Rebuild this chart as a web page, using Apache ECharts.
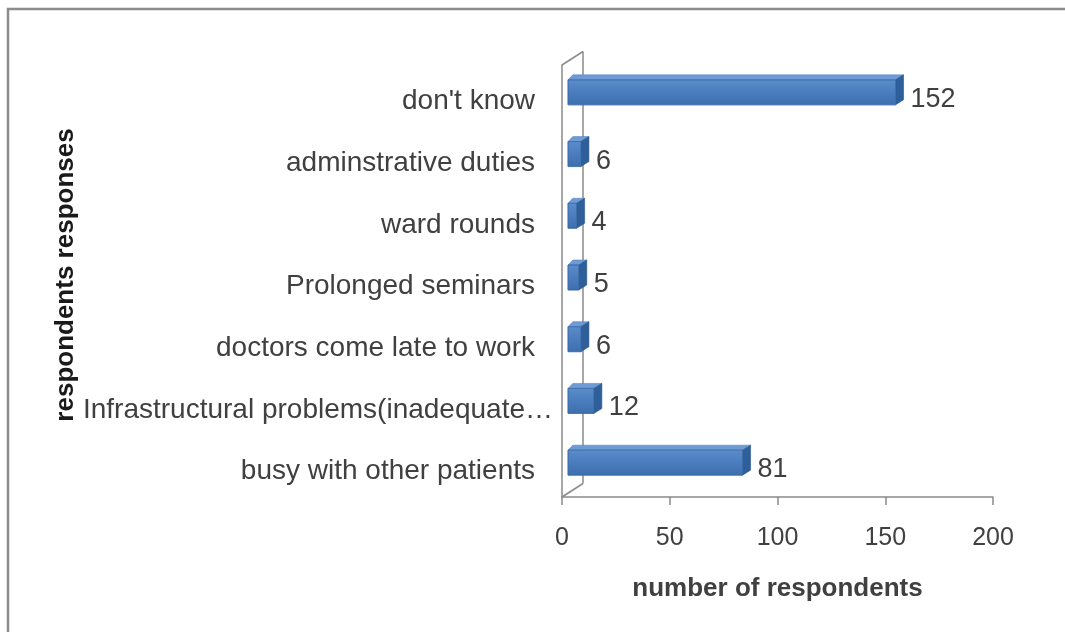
<!DOCTYPE html>
<html>
<head>
<meta charset="utf-8">
<script src="https://cdn.jsdelivr.net/npm/echarts@6/dist/echarts.min.js"></script>
<style>
  html, body { margin: 0; padding: 0; background: #ffffff; }
  #chart { width: 1065px; height: 632px; }
</style>
</head>
<body>
<div id="chart"></div>
<script>
// Reasons given by respondents (bottom to top on the category axis)
const categories = [
  'busy with other patients',
  'Infrastructural problems(inadequate\u2026',
  'doctors come late to work',
  'Prolonged seminars',
  'ward rounds',
  'adminstrative duties',
  "don't know"
];
const respondents = [81, 12, 6, 5, 4, 6, 152];
const xTicks = { min: 0, max: 200, interval: 50 };

const FONT = 'Liberation Sans';
const TEXT = '#404040';
const AXIS = '#8a8a8a';

// 3D look: the bar face sits slightly inside the wall, and each bar has a depth
const FACE_SHIFT = [6, -3.5];
const DEPTH = [8, -5];
const WALL = [21, -13.5];

const chart = echarts.init(document.getElementById('chart'), null, { renderer: 'canvas' });

function renderBar(params, api) {
  const cat = api.value(0);
  const val = api.value(1);
  const start = api.coord([0, cat]);
  const end = api.coord([val, cat]);
  const band = api.size([0, 1])[1];
  const h = band * 0.405;
  const x0 = start[0] + FACE_SHIFT[0];
  const x1 = end[0] + FACE_SHIFT[0];
  const yc = start[1] + FACE_SHIFT[1];
  const yt = yc - h / 2;
  const dx = DEPTH[0], dy = DEPTH[1];
  return {
    type: 'group',
    children: [
      {
        type: 'polygon',
        shape: { points: [[x0 + dx * 0.6, yt + dy], [x1 + dx, yt + dy], [x1, yt], [x0, yt]] },
        style: { fill: '#6e9bd6', stroke: '#5a87c2', lineWidth: 0.6 }
      },
      {
        type: 'polygon',
        shape: { points: [[x1, yt], [x1 + dx, yt + dy], [x1 + dx, yt + dy + h], [x1, yt + h]] },
        style: { fill: '#2f5f9a', stroke: '#2a5589', lineWidth: 0.6 }
      },
      {
        type: 'rect',
        shape: { x: x0, y: yt, width: x1 - x0, height: h },
        style: {
          fill: new echarts.graphic.LinearGradient(0, 0, 0, 1, [
            { offset: 0, color: '#5b8ccb' },
            { offset: 0.5, color: '#4a7dbd' },
            { offset: 1, color: '#3d6fae' }
          ]),
          stroke: '#3a6aa6',
          lineWidth: 0.6
        }
      },
      {
        type: 'text',
        style: {
          x: x1 + dx + 7,
          y: yc + 7,
          text: String(val),
          fill: TEXT,
          fontFamily: FONT,
          fontSize: 27,
          verticalAlign: 'middle',
          align: 'left'
        }
      }
    ]
  };
}

chart.setOption({
  animation: false,
  backgroundColor: '#ffffff',
  textStyle: { fontFamily: FONT },
  grid: { left: 562, right: 72, top: 65, bottom: 135, containLabel: false },
  xAxis: {
    type: 'value',
    min: xTicks.min,
    max: xTicks.max,
    interval: xTicks.interval,
    axisLine: { show: true, lineStyle: { color: AXIS, width: 1.5 } },
    axisTick: { show: true, length: 8, lineStyle: { color: AXIS, width: 1.5 } },
    splitLine: { show: false },
    axisLabel: { color: TEXT, fontSize: 25, fontFamily: FONT, margin: 29 },
    name: 'number of respondents',
    nameLocation: 'middle',
    nameGap: 79,
    nameTextStyle: { color: TEXT, fontSize: 26, fontWeight: 'bold', fontFamily: FONT }
  },
  yAxis: {
    type: 'category',
    data: categories,
    axisLine: { show: true, lineStyle: { color: AXIS, width: 1.5 } },
    axisTick: { show: false },
    splitLine: { show: false },
    axisLabel: {
      color: TEXT,
      fontSize: 28,
      fontFamily: FONT,
      margin: 27,
      // labels sit a little below the bar centres; the truncated one overhangs to the right
      formatter: (name, idx) => (idx === 1 ? '{wide|' + name + '}' : '{std|' + name + '}'),
      rich: {
        std: { color: TEXT, fontSize: 28, fontFamily: FONT, padding: [11, 0, 0, 0] },
        wide: { color: TEXT, fontSize: 28, fontFamily: FONT, padding: [11, -18, 0, 0] }
      }
    },
    name: 'respondents responses',
    nameLocation: 'middle',
    nameRotate: 90,
    nameGap: 474,
    nameTextStyle: { color: '#1a1a1a', fontSize: 26, fontWeight: 'bold', fontFamily: FONT, padding: [0, 0, 0, 12] }
  },
  series: [
    {
      type: 'custom',
      renderItem: renderBar,
      encode: { x: 1, y: 0 },
      data: respondents.map((v, i) => [i, v]),
      z: 5
    }
  ]
});

// Side wall of the 3D plot area and the outer chart frame
function drawDecor() {
  const rect = chart.getModel().getComponent('grid', 0).coordinateSystem.getRect();
  const xL = rect.x, yT = rect.y, yB = rect.y + rect.height;
  const wallStyle = { stroke: AXIS, lineWidth: 1.5, fill: null };
  chart.setOption({
    graphic: [
      { type: 'line', z: 1, shape: { x1: xL + WALL[0], y1: yT + WALL[1], x2: xL + WALL[0], y2: yB + WALL[1] }, style: wallStyle },
      { type: 'line', z: 1, shape: { x1: xL, y1: yT, x2: xL + WALL[0], y2: yT + WALL[1] }, style: wallStyle },
      { type: 'line', z: 1, shape: { x1: xL, y1: yB, x2: xL + WALL[0], y2: yB + WALL[1] }, style: wallStyle },
      { type: 'rect', z: 0, shape: { x: 8, y: 9, width: 1200, height: 800 }, style: { stroke: '#8c8c8c', lineWidth: 2.5, fill: null } }
    ]
  });
}
drawDecor();
</script>
</body>
</html>
